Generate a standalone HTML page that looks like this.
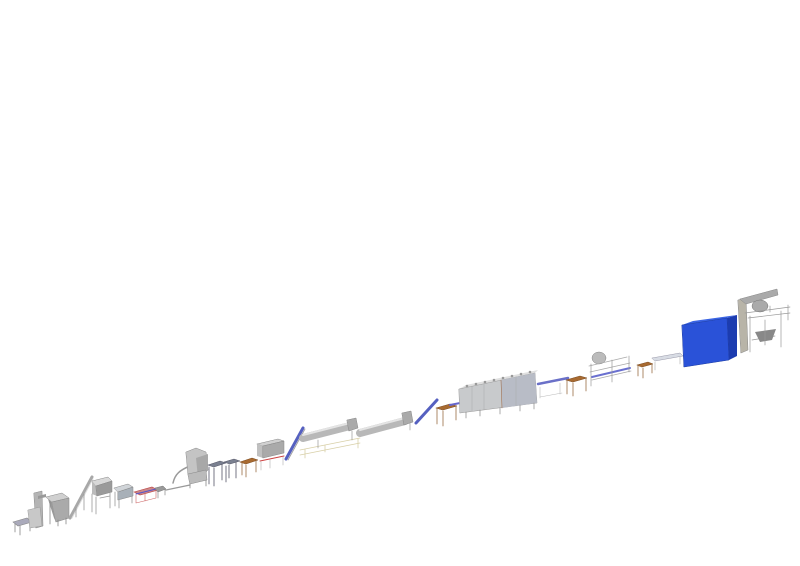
<!DOCTYPE html>
<html><head><style>html,body{margin:0;padding:0;background:#fff;}svg{display:block}</style></head>
<body>
<svg width="800" height="566" viewBox="0 0 800 566" xmlns="http://www.w3.org/2000/svg">
<rect width="800" height="566" fill="#fff"/>
<g stroke-linecap="round">
<!-- small table left -->
<polygon points="13,522 27,518 32,522 18,526" fill="#aab" stroke="#888" stroke-width="0.6"/>
<path d="M15,524 V532 M20,526 V535 M30,523 V531" stroke="#888" stroke-width="0.8"/>
<!-- elevator column -->
<polygon points="34,493 42,491 43,526 36,528" fill="#b4b4b4" stroke="#888" stroke-width="0.5"/>
<polygon points="28,510 40,507 42,526 30,528" fill="#c8c8c8" stroke="#999" stroke-width="0.5"/>
<polygon points="38,496 46,494 46,497 38,499" fill="#999"/>
<!-- dust box -->
<polygon points="46,497 62,493 69,498 52,502" fill="#d0d0d0" stroke="#888" stroke-width="0.5"/>
<polygon points="52,502 69,498 69,518 56,522" fill="#aaa" stroke="#888" stroke-width="0.5"/>
<polygon points="48,499 52,502 56,522 54,518" fill="#999"/>
<path d="M50,502 V524 M58,520 V526 M66,518 V524" stroke="#888" stroke-width="0.8"/>
<!-- inclined conveyor -->
<path d="M70,518 L92,477" stroke="#a8a8a8" stroke-width="3"/>
<path d="M72,518 L93,479" stroke="#ddd" stroke-width="1"/>
<path d="M76,508 V517 M84,494 V510" stroke="#999" stroke-width="0.8"/>
<!-- drum machine -->
<polygon points="92,481 108,477 112,481 96,486" fill="#d8d8d8" stroke="#888" stroke-width="0.5"/>
<polygon points="92,481 96,486 97,496 92,494" fill="#bbb"/>
<polygon points="96,486 112,481 112,492 97,496" fill="#9a9a9a" stroke="#888" stroke-width="0.5"/>
<path d="M92,494 V512 M96,497 V514 M110,493 V508 M100,498 L110,496" stroke="#999" stroke-width="0.8"/>
<!-- machine 2 -->
<polygon points="114,488 128,484 133,487 118,492" fill="#d0d4d8" stroke="#888" stroke-width="0.5"/>
<polygon points="118,492 133,487 133,496 118,500" fill="#a8b0b8" stroke="#888" stroke-width="0.5"/>
<path d="M115,492 V506 M119,500 V508 M132,496 V503" stroke="#999" stroke-width="0.8"/>
<!-- red table -->
<polygon points="134,492 152,487 158,490 140,495" fill="#c88" stroke="#b44" stroke-width="0.6"/>
<path d="M136,494 L156,489" stroke="#55c" stroke-width="1"/>
<path d="M136,495 V503 M145,493 V501 M156,491 V498 M136,503 L156,498" stroke="#c66" stroke-width="0.6"/>
<polygon points="155,488 163,486 166,489 158,492" fill="#999" stroke="#777" stroke-width="0.5"/>
<path d="M158,492 V498 M165,489 V495" stroke="#888" stroke-width="0.7"/>
<!-- pipe -->
<path d="M166,490 L190,485" stroke="#999" stroke-width="1.2"/>
<path d="M173,483 C175,474 180,470 190,466" stroke="#999" stroke-width="1.5" fill="none"/>
<!-- cyclone -->
<polygon points="186,452 196,448 206,452 208,470 196,482 188,474" fill="#c4c4c4" stroke="#888" stroke-width="0.5"/>
<polygon points="196,458 208,454 208,470 198,478" fill="#a8a8a8"/>
<polygon points="188,474 206,470 207,480 190,484" fill="#bbb" stroke="#888" stroke-width="0.5"/>
<path d="M190,484 V488 M206,480 V486" stroke="#888" stroke-width="0.8"/>
<!-- blue-grey tables -->
<polygon points="208,465 220,461 226,463 214,467" fill="#7a8090" stroke="#556" stroke-width="0.5"/>
<polygon points="224,462 234,459 240,461 230,464" fill="#7a8090" stroke="#556" stroke-width="0.5"/>
<path d="M209,467 V484 M214,468 V486 M222,464 V480 M226,466 V482 M229,465 V478 M236,462 V478" stroke="#556" stroke-width="0.8"/>
<!-- brown table -->
<polygon points="240,462 252,458 258,460 246,464" fill="#a86a30" stroke="#7a4a20" stroke-width="0.5"/>
<path d="M242,463 V475 M246,465 V477 M256,461 V472" stroke="#8a5a2a" stroke-width="0.7"/>
<!-- grey box -->
<polygon points="257,444 278,439 284,441 263,446" fill="#d0d0d0" stroke="#888" stroke-width="0.5"/>
<polygon points="257,444 263,446 263,458 257,456" fill="#c0c0c0"/>
<polygon points="263,446 284,441 284,453 263,458" fill="#aaa" stroke="#888" stroke-width="0.5"/>
<path d="M260,461 L284,456" stroke="#c44" stroke-width="1"/>
<path d="M261,462 V470 M270,460 V468 M283,457 V465" stroke="#bbb" stroke-width="0.7"/>
<!-- blue incline -->
<path d="M286,459 L303,428" stroke="#5560c0" stroke-width="3"/>
<path d="M288,460 L305,429" stroke="#999" stroke-width="0.8"/>
<!-- beige frame -->
<path d="M300,450 L360,438 M300,455 L360,443 M305,449 V458 M358,439 V448 M325,445 V452" stroke="#d8d0a8" stroke-width="0.8"/>
<!-- screw conveyors -->
<path d="M303,438 L350,426" stroke="#b8b8b8" stroke-width="8"/>
<path d="M303,435 L350,423" stroke="#e4e4e4" stroke-width="2"/>
<polygon points="347,420 356,418 358,428 349,431" fill="#aaa" stroke="#888" stroke-width="0.5"/>
<path d="M360,433 L405,421" stroke="#b8b8b8" stroke-width="8"/>
<path d="M360,430 L405,418" stroke="#e4e4e4" stroke-width="2"/>
<polygon points="402,413 411,411 413,422 404,425" fill="#aaa" stroke="#888" stroke-width="0.5"/>
<path d="M352,431 V440 M410,423 V430 M318,440 V448" stroke="#999" stroke-width="0.7"/>
<!-- blue incline 2 -->
<path d="M416,423 L437,400" stroke="#5560c0" stroke-width="3"/>
<!-- brown table 2 -->
<polygon points="436,408 450,404 457,406 443,410" fill="#a86a30" stroke="#7a4a20" stroke-width="0.5"/>
<path d="M437,409 V424 M443,411 V426 M456,407 V420" stroke="#8a5a2a" stroke-width="0.7"/>
<path d="M450,405 L460,403" stroke="#66c" stroke-width="2"/>
<!-- oven -->
<polygon points="459,389 466,385 538,370 535,373" fill="#e0e0e0"/>
<polygon points="459,389 535,373 537,403 460,413" fill="#c8cacc" stroke="#999" stroke-width="0.5"/>
<polygon points="501,380 535,373 537,403 502,408" fill="#b8bcc6"/>
<path d="M501,380 L502,408" stroke="#a07050" stroke-width="0.6"/>
<path d="M472,386 V411 M484,384 V410 M516,377 V406" stroke="#aaa" stroke-width="0.5"/>
<g fill="#999"><circle cx="467" cy="386" r="1.3"/><circle cx="476" cy="384" r="1.3"/><circle cx="485" cy="382" r="1.3"/><circle cx="494" cy="380" r="1.3"/><circle cx="503" cy="378" r="1.3"/><circle cx="512" cy="376" r="1.3"/><circle cx="521" cy="374" r="1.3"/><circle cx="530" cy="372" r="1.3"/></g>
<path d="M466,412 V418 M480,410 V416 M500,408 V414 M520,405 V411 M534,403 V409" stroke="#888" stroke-width="0.7"/>
<!-- conveyor after oven -->
<path d="M538,384 L568,378" stroke="#6a70c8" stroke-width="2.5"/>
<path d="M540,387 V398 M560,383 V394 M540,397 L562,393" stroke="#bbb" stroke-width="0.6"/>
<!-- brown table 3 -->
<polygon points="566,380 580,376 587,378 573,382" fill="#a86a30" stroke="#7a4a20" stroke-width="0.5"/>
<path d="M567,381 V394 M573,383 V396 M586,379 V391" stroke="#8a5a2a" stroke-width="0.7"/>
<!-- drum machine -->
<ellipse cx="599" cy="358" rx="7" ry="6" fill="#bbb" stroke="#888" stroke-width="0.5"/>
<path d="M589,366 L627,357 M590,372 L630,363 M592,380 L631,371" stroke="#aaa" stroke-width="0.8"/>
<path d="M592,377 L630,368" stroke="#6a70d0" stroke-width="2"/>
<path d="M591,364 V386 M612,360 V382 M629,356 V372" stroke="#999" stroke-width="0.7"/>
<!-- brown table 4 -->
<polygon points="637,365 648,362 653,364 642,367" fill="#a86a30" stroke="#7a4a20" stroke-width="0.5"/>
<path d="M638,366 V376 M643,368 V378 M652,365 V373" stroke="#8a5a2a" stroke-width="0.7"/>
<!-- conveyor to blue box -->
<polygon points="652,358 680,353 683,356 655,361" fill="#d8dce4" stroke="#99a" stroke-width="0.5"/>
<path d="M655,362 V370 M680,357 V364" stroke="#aaa" stroke-width="0.6"/>
<!-- blue box -->
<polygon points="682,325 727,318 737,315 693,321" fill="#3a64e4"/>
<polygon points="682,325 727,318 729,360 684,367" fill="#2a52d8" stroke="#1a3aa0" stroke-width="0.5"/>
<polygon points="727,318 737,315 737,356 729,360" fill="#1c3cb0"/>
<!-- packing machine -->
<polygon points="738,300 746,298 748,350 741,353" fill="#b8b4a8" stroke="#888" stroke-width="0.5"/>
<polygon points="740,299 777,289 778,295 746,304" fill="#aaa" stroke="#888" stroke-width="0.5"/>
<ellipse cx="760" cy="306" rx="8" ry="6" fill="#aaa" stroke="#777" stroke-width="0.5"/>
<path d="M745,313 L790,307 M748,318 L790,313 M752,340 L775,336" stroke="#999" stroke-width="0.7"/>
<polygon points="755,332 776,329 772,340 760,342" fill="#888"/>
<path d="M750,316 V352 M765,320 V345 M781,311 V347 M788,305 V320 M770,306 V312" stroke="#999" stroke-width="0.7"/>
</g>
</svg>
</body></html>
